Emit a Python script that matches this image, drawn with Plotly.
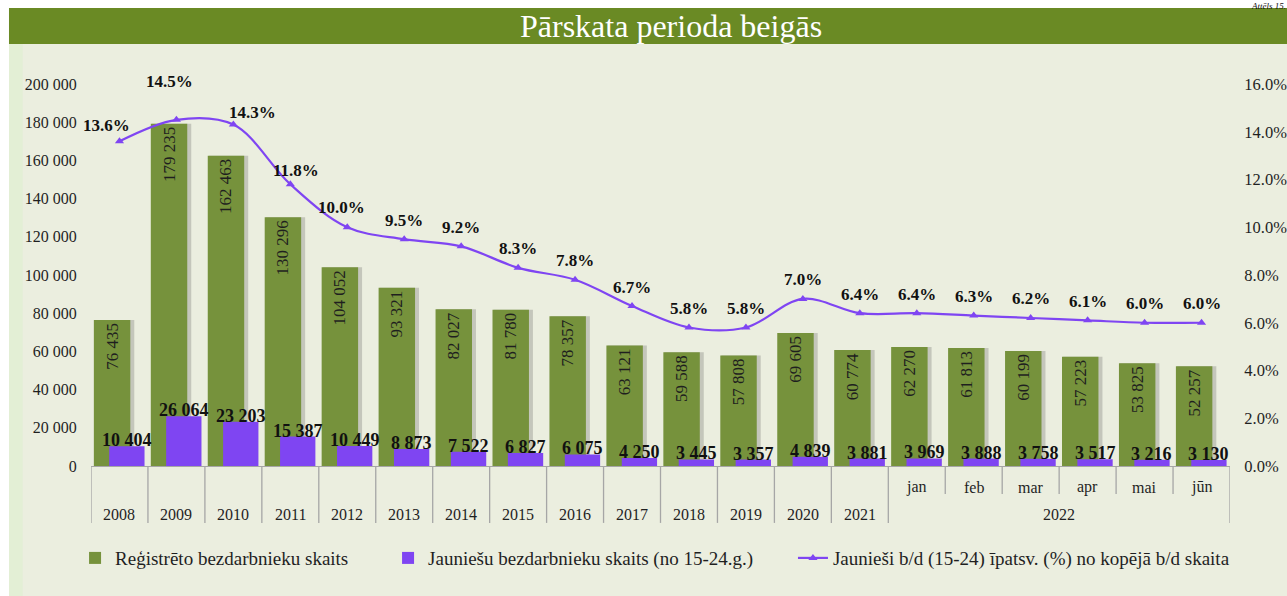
import plotly.graph_objects as go

categories = ["2008", "2009", "2010", "2011", "2012", "2013", "2014", "2015", "2016",
              "2017", "2018", "2019", "2020", "2021", "jan", "feb", "mar", "apr", "mai", "jūn"]
year_labels = ["2008", "2009", "2010", "2011", "2012", "2013", "2014", "2015", "2016",
               "2017", "2018", "2019", "2020", "2021"]
month_labels = ["jan", "feb", "mar", "apr", "mai", "jūn"]
month_group_label = "2022"

registered = [76435, 179235, 162463, 130296, 104052, 93321, 82027, 81780, 78357,
              63121, 59588, 57808, 69605, 60774, 62270, 61813, 60199, 57223, 53825, 52257]
youth = [10404, 26064, 23203, 15387, 10449, 8873, 7522, 6827, 6075,
         4250, 3445, 3357, 4839, 3881, 3969, 3888, 3758, 3517, 3216, 3130]
youth_share = [13.6, 14.5, 14.3, 11.8, 10.0, 9.5, 9.2, 8.3, 7.8,
               6.7, 5.8, 5.8, 7.0, 6.4, 6.4, 6.3, 6.2, 6.1, 6.0, 6.0]

names = ["Reģistrēto bezdarbnieku skaits",
         "Jauniešu bezdarbnieku skaits (no 15-24.g.)",
         "Jaunieši b/d (15-24) īpatsv. (%) no kopējā b/d skaita"]

GREEN = "#76923C"
PURPLE = "#7F45F2"
SERIF = "Liberation Serif"
TXT = "#1f1f1f"


def fmt(v):
    return f"{v:,}".replace(",", " ")


xidx = list(range(len(categories)))
P_OFF, P_W = -0.18, 0.62

fig = go.Figure()

# soft shadow of green bars
fig.add_trace(go.Bar(
    x=xidx, y=registered, offset=-0.43, width=0.69,
    marker=dict(color="rgba(60,60,60,0.22)", line=dict(width=0)),
    showlegend=False, hoverinfo="skip"))

fig.add_trace(go.Bar(
    x=xidx, y=registered, name=names[0], offset=-0.45, width=0.64,
    marker=dict(color=GREEN, line=dict(width=0)),
    text=[fmt(v) for v in registered], textposition="inside",
    insidetextanchor="end", textangle=-90, constraintext="none",
    textfont=dict(family=SERIF, size=17, color=TXT), legend="legend"))

fig.add_trace(go.Bar(
    x=xidx, y=youth, name=names[1], offset=P_OFF, width=P_W,
    marker=dict(color=PURPLE, line=dict(width=0)), legend="legend2"))

fig.add_trace(go.Scatter(
    x=xidx, y=youth_share, name=names[2], yaxis="y2",
    mode="lines+markers", line=dict(color=PURPLE, width=2.2, shape="spline", smoothing=1),
    marker=dict(symbol="triangle-up", size=8, color=PURPLE), legend="legend3"))

# labels of the youth bars (sitting right on the bar tops)
for i, v in enumerate(youth):
    fig.add_annotation(x=i + P_OFF + P_W / 2, y=v, xref="x", yref="y", text=fmt(v),
                       showarrow=False, yanchor="bottom", yshift=-6,
                       font=dict(family=SERIF, size=18, color="#111111", weight="bold"))

# labels of the share line
shifts = {0: (-13, 16), 1: (-7, 38), 2: (19, 12), 3: (6, 14), 4: (-6, 20)}
for i, v in enumerate(youth_share):
    xs, ys = shifts.get(i, (0, 19))
    fig.add_annotation(x=i, y=v, xref="x", yref="y2", text=f"{v:.1f}%", showarrow=False,
                       xshift=xs, yshift=ys, yanchor="middle",
                       font=dict(family=SERIF, size=17, color="#111111", weight="bold"))

# category table below the plot
ncat = len(categories)
ny = len(year_labels)
for i, lab in enumerate(year_labels):
    fig.add_annotation(x=i, y=-0.128, xref="x", yref="paper", text=lab, showarrow=False,
                       yanchor="middle", font=dict(family=SERIF, size=16, color=TXT))
for j, lab in enumerate(month_labels):
    fig.add_annotation(x=ny + j, y=-0.055, xref="x", yref="paper", text=lab, showarrow=False,
                       yanchor="middle", font=dict(family=SERIF, size=16, color=TXT))
fig.add_annotation(x=ny + (len(month_labels) - 1) / 2, y=-0.128, xref="x", yref="paper",
                   text=month_group_label, showarrow=False, yanchor="middle",
                   font=dict(family=SERIF, size=16, color=TXT))

shapes = []
# backgrounds
shapes.append(dict(type="rect", xref="paper", yref="paper", x0=-0.072, x1=1.06, y0=-0.36, y1=1.105,
                   fillcolor="#EBEEDF", line=dict(width=0), layer="below"))
shapes.append(dict(type="rect", xref="paper", yref="paper", x0=-0.072, x1=-0.06, y0=-0.36, y1=1.105,
                   fillcolor="#E3EFD5", line=dict(width=0), layer="below"))
shapes.append(dict(type="rect", xref="paper", yref="paper", x0=-0.072, x1=1.06, y0=1.105, y1=1.199,
                   fillcolor="#6A8A24", line=dict(width=0), layer="below"))
for k in range(ncat + 1):
    full = k <= ny or k == ncat
    shapes.append(dict(type="line", xref="x", yref="paper", x0=k - 0.5, x1=k - 0.5,
                       y0=0, y1=-0.149 if full else -0.073,
                       line=dict(color="#A6A6A6", width=1.3)))

fig.add_annotation(x=0.509, y=1.152, xref="paper", yref="paper", text="Pārskata perioda beigās",
                   showarrow=False, yanchor="middle",
                   font=dict(family=SERIF, size=32, color="white"))
fig.add_annotation(x=1.05, y=1.2199, xref="paper", yref="paper", text="<i>Attēls 15.</i>",
                   showarrow=False, xanchor="right", yanchor="top", borderpad=0,
                   font=dict(family=SERIF, size=9, color="#111111"))

leg_common = dict(orientation="h", y=-0.241, xanchor="left", yanchor="middle",
                  bgcolor="rgba(0,0,0,0)", font=dict(family=SERIF, size=19, color=TXT),
                  itemwidth=30)

fig.update_layout(
    width=1287, height=596,
    margin=dict(l=91, r=57, t=84, b=130, autoexpand=False),
    paper_bgcolor="white", plot_bgcolor="rgba(0,0,0,0)",
    barmode="overlay", separators=". ",
    shapes=shapes,
    font=dict(family=SERIF, size=16, color=TXT),
    xaxis=dict(range=[-0.5, ncat - 0.5], showticklabels=False, automargin=False,
               showgrid=False, zeroline=False, showline=True, linecolor="#A6A6A6", linewidth=1.3,
               ticks=""),
    yaxis=dict(range=[0, 200000], dtick=20000, tickformat=",", showgrid=False, zeroline=False,
               showline=False, ticks="outside", ticklen=10, tickcolor="rgba(0,0,0,0)",
               automargin=False, tickfont=dict(family=SERIF, size=16, color=TXT)),
    yaxis2=dict(range=[0, 16], dtick=2, tickformat=".1f", ticksuffix="%", overlaying="y",
                side="right", showgrid=False, zeroline=False, showline=False,
                ticks="outside", ticklen=10, tickcolor="rgba(0,0,0,0)", automargin=False,
                tickfont=dict(family=SERIF, size=16.5, color=TXT)),
    legend=dict(x=-0.014, **leg_common),
    legend2=dict(x=0.2608, **leg_common),
    legend3=dict(x=0.6163, **leg_common),
    showlegend=True,
)

fig.write_html("out.html", config={"displayModeBar": False},
               post_script="document.body.style.margin='0';")
